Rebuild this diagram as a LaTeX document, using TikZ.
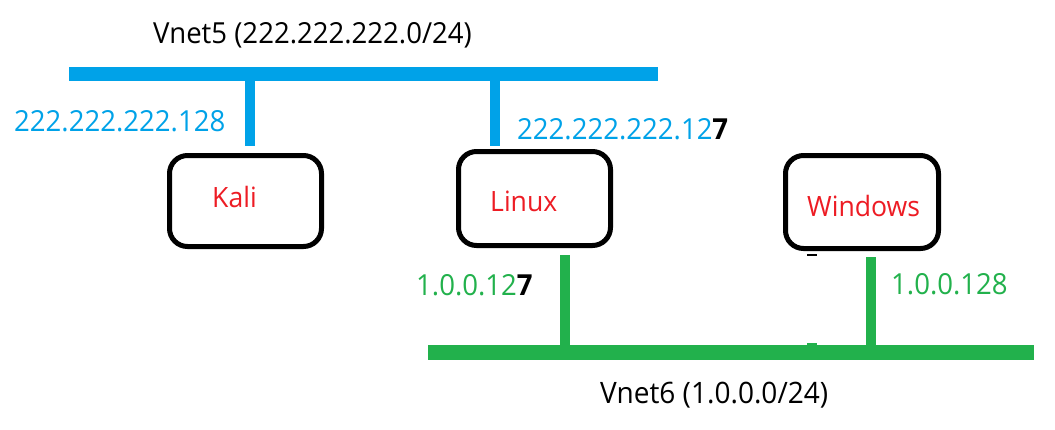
\documentclass[tikz,border=0pt]{standalone}
\usepackage{fontspec}
\setmainfont{Open Sans}[FakeStretch=0.95]
\definecolor{netblue}{RGB}{0,162,232}
\definecolor{netgreen}{RGB}{34,177,76}
\definecolor{hostred}{RGB}{237,28,36}
\begin{document}
\begin{tikzpicture}[x=1pt,y=-1pt,
  host/.style={draw=black,line width=5pt,rounded corners=18pt,inner sep=0pt},
  bus/.style={line width=14pt},
  drop/.style={line width=10pt},
  lbl/.style={anchor=base west,inner sep=0pt,font=\fontsize{29}{29}\selectfont},
  hostlbl/.style={anchor=base west,inner sep=0pt,text=hostred,font=\fontsize{28}{28}\selectfont}]
\useasboundingbox (0,0) rectangle (1055,429);
% hosts
\node[host,minimum width=152pt,minimum height=91pt] (kali) at (245.5,201) {};
\node[host,minimum width=152pt,minimum height=94pt] (linux) at (534.5,198.5) {};
\node[host,minimum width=153pt,minimum height=93pt] (windows) at (862,202) {};
\node[hostlbl] (kalitxt) at (212,207) {Kali};
\node[hostlbl] (linuxtxt) at (490,211) {Linux};
\node[hostlbl] (wintxt) at (807,216) {Windows};
% Vnet5
\coordinate (v5L) at (69,74);
\coordinate (v5R) at (658,74);
\coordinate (v5k) at (250,74);
\coordinate (v5l) at (495,74);
\coordinate (kaliTop) at (250,146);
\coordinate (linuxTop) at (495,146);
\draw[bus,netblue] (v5L) -- (v5R);
\draw[drop,netblue] (v5k) -- (kaliTop);
\draw[drop,netblue] (v5l) -- (linuxTop);
% Vnet6
\coordinate (v6L) at (428,352.5);
\coordinate (v6R) at (1034,352.5);
\coordinate (v6l) at (565,352);
\coordinate (v6w) at (871,352);
\coordinate (linuxBot) at (565,255);
\coordinate (winBot) at (871,257);
\draw[bus,netgreen,line width=15pt] (v6L) -- (v6R);
\draw[drop,netgreen] (v6l) -- (linuxBot);
\draw[drop,netgreen] (v6w) -- (winBot);
% small marks
\draw[black,line width=1.5pt] (807,255) -- (817,255);
\draw[netgreen,line width=3pt] (807,344) -- (817,344);
% labels
\node[lbl] (v5txt) at (153,43.3) {Vnet5 (222.222.222.0/24)};
\node[lbl,font=\fontsize{29.5}{29.5}\selectfont] (v6txt) at (600,403) {Vnet6 (1.0.0.0/24)};
\node[lbl,text=netblue] (kaliip) at (14,131.7) {222.222.222.128};
\node[lbl,text=netblue] (linuxip5) at (517,139) {222.222.222.12{\bfseries\color{black}7}};
\node[lbl,text=netgreen] (linuxip6) at (416,295) {1.0.0.12{\bfseries\color{black}7}};
\node[lbl,text=netgreen] (winip) at (891,294) {1.0.0.128};
\end{tikzpicture}
\end{document}
